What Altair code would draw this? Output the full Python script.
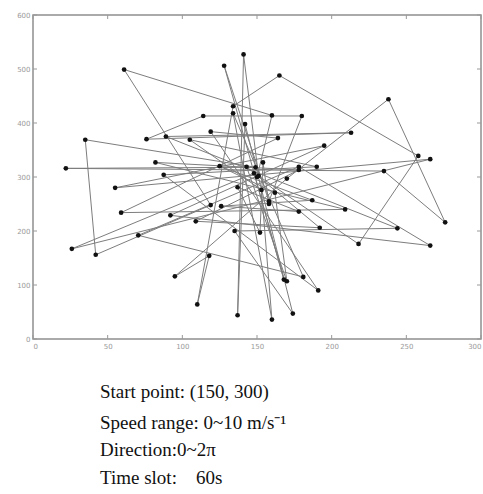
import altair as alt
import pandas as pd

# Visited positions of the random walk, in the order they were reached
xs = [150, 160, 61, 119, 42, 35, 149, 22, 235, 276, 238, 170, 95, 118, 110,
      134, 165, 258, 218, 151, 141, 137, 142, 174, 135, 244, 89, 213, 76, 114,
      180, 158, 128, 168, 148, 26, 266, 55, 195, 92, 266, 178, 70.5, 181, 134,
      160, 153, 105, 190, 87.5, 191, 119, 164, 59, 209, 82, 178, 109, 192, 143,
      170, 162, 125, 187, 126, 178, 137, 152, 154, 158]
ys = [300, 414, 499, 248, 156, 369, 318, 316, 311, 216, 444, 297, 116, 154, 64,
      431, 488, 339, 176, 302, 527, 44, 398, 47, 200, 205, 375, 382, 370, 413,
      413, 255, 506, 110, 307, 167, 333, 280, 358, 229, 173, 319, 192, 115, 418,
      36, 276, 369, 319, 304, 90, 384, 372, 234, 240, 327, 313, 218, 206, 319,
      107, 271, 320, 257, 246, 236, 281, 197, 327, 250]

x_ticks = [0, 50, 100, 150, 200, 250, 300]
y_ticks = [0, 100, 200, 300, 400, 500, 600]

NBSP = "\u00a0"
notes = [
    "Start point: (150, 300)",
    "Speed range: 0~10 m/s\u207b\u00b9",
    "Direction:0~2\u03c0",
    "Time slot:" + NBSP * 4 + "60s",
]

W, H = 448, 324

walk = pd.DataFrame({"x": xs, "y": ys, "step": list(range(len(xs)))})

xscale = alt.Scale(domain=[0, 300], nice=False, zero=False)
yscale = alt.Scale(domain=[0, 600], nice=False, zero=False)

axis_style = dict(
    labelFontSize=7, labelColor="#9a9a9a", labelFont="DejaVu Sans",
    domain=False, ticks=False, grid=False, title=None, labelPadding=3,
)

path = alt.Chart(walk).mark_line(color="#7d7d7d", strokeWidth=1).encode(
    x=alt.X("x:Q", scale=xscale, axis=alt.Axis(values=x_ticks, **axis_style)),
    y=alt.Y("y:Q", scale=yscale, axis=alt.Axis(values=y_ticks, **axis_style)),
    order="step:O",
)

stops = alt.Chart(walk).mark_circle(color="#111111", opacity=1, size=22).encode(
    x=alt.X("x:Q", scale=xscale),
    y=alt.Y("y:Q", scale=yscale),
)

# Short inward ticks on the frame
xt = pd.DataFrame({"x": x_ticks})
yt = pd.DataFrame({"y": y_ticks})
tick_bottom = alt.Chart(xt).mark_rule(color="#999999", strokeWidth=1).encode(
    x=alt.X("x:Q", scale=xscale), y=alt.value(H), y2=alt.value(H - 4))
tick_top = alt.Chart(xt).mark_rule(color="#999999", strokeWidth=1).encode(
    x=alt.X("x:Q", scale=xscale), y=alt.value(0), y2=alt.value(4))
tick_left = alt.Chart(yt).mark_rule(color="#999999", strokeWidth=1).encode(
    y=alt.Y("y:Q", scale=yscale), x=alt.value(0), x2=alt.value(4))
tick_right = alt.Chart(yt).mark_rule(color="#999999", strokeWidth=1).encode(
    y=alt.Y("y:Q", scale=yscale), x=alt.value(W), x2=alt.value(W - 4))

# Simulation settings printed under the plot
note_df = pd.DataFrame({"text": notes, "line": list(range(len(notes)))})
note_df["ypix"] = [H + 53, H + 84, H + 111, H + 139]
caption = alt.Chart(note_df).mark_text(
    align="left", baseline="middle", font="Liberation Serif", fontSize=19,
    color="#111111",
).encode(
    x=alt.value(67),
    y=alt.Y("ypix:Q", scale=None),
    text="text:N",
)

chart = alt.layer(
    path, stops, tick_bottom, tick_top, tick_left, tick_right, caption
).properties(
    width=W, height=H,
    autosize=alt.AutoSizeParams(type="none"),
    padding={"left": 33, "top": 15, "right": 2, "bottom": 155},
    background="white",
).configure_view(
    stroke="#8f8f8f", strokeWidth=1.5,
)

chart.save("out.html", embed_options={"renderer": "svg", "actions": False})
